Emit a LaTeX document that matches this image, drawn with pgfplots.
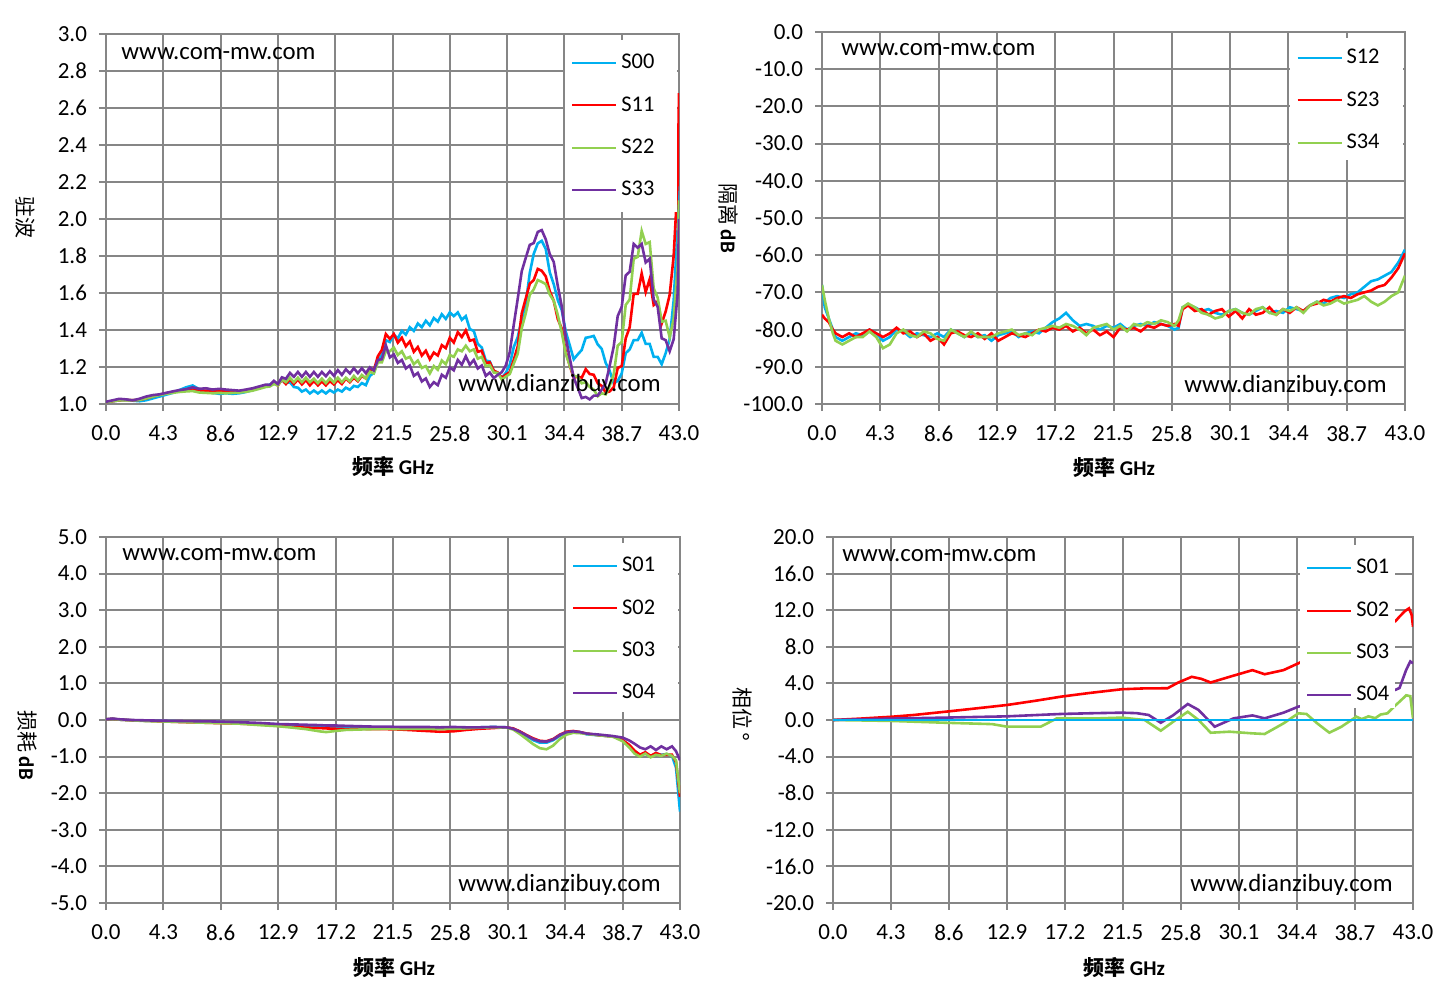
\documentclass[border=0pt]{standalone}
\usepackage{pgfplots}
\pgfplotsset{compat=1.18}
\usepackage{pgfplotstable}
\usepackage{fontspec}
\setmainfont{Carlito}
\newfontfamily\cjk{Noto Sans CJK SC}
\definecolor{gridgray}{HTML}{868686}
\definecolor{sblue}{HTML}{00B0F0}
\definecolor{sred}{HTML}{FF0000}
\definecolor{sgreen}{HTML}{92D050}
\definecolor{spurple}{HTML}{7030A0}

\pgfplotstableread{
f a b c d
0.0 1.010 1.010 1.010 1.012
0.5 1.015 1.015 1.015 1.020
1.0 1.020 1.020 1.020 1.028
1.5 1.022 1.022 1.020 1.025
2.0 1.018 1.020 1.020 1.020
2.5 1.015 1.022 1.022 1.028
3.0 1.020 1.030 1.030 1.040
3.5 1.030 1.040 1.040 1.048
4.0 1.040 1.050 1.048 1.052
4.5 1.050 1.058 1.055 1.060
5.0 1.060 1.065 1.060 1.068
5.5 1.075 1.070 1.065 1.075
6.0 1.090 1.072 1.068 1.080
6.5 1.100 1.078 1.070 1.090
7.0 1.080 1.070 1.062 1.082
7.5 1.068 1.072 1.060 1.085
8.0 1.060 1.070 1.058 1.078
8.5 1.055 1.068 1.060 1.082
9.0 1.058 1.070 1.058 1.078
9.5 1.055 1.066 1.060 1.075
10.0 1.058 1.070 1.062 1.072
10.5 1.065 1.075 1.066 1.078
11.0 1.075 1.082 1.072 1.085
11.5 1.088 1.090 1.082 1.095
12.0 1.100 1.100 1.092 1.105
12.3 1.105 1.098 1.095 1.103
12.6 1.115 1.115 1.108 1.125
12.9 1.110 1.100 1.100 1.108
13.2 1.128 1.132 1.132 1.144
13.5 1.112 1.108 1.118 1.136
13.8 1.118 1.132 1.142 1.168
14.1 1.092 1.108 1.118 1.147
14.4 1.088 1.132 1.142 1.173
14.7 1.067 1.106 1.118 1.147
15.0 1.078 1.129 1.142 1.173
15.3 1.057 1.101 1.118 1.147
15.6 1.073 1.124 1.137 1.173
15.9 1.057 1.101 1.113 1.147
16.2 1.073 1.122 1.137 1.173
16.5 1.057 1.101 1.113 1.150
16.8 1.075 1.124 1.139 1.177
17.1 1.062 1.106 1.116 1.153
17.4 1.078 1.129 1.142 1.183
17.7 1.067 1.108 1.118 1.157
18.0 1.088 1.137 1.142 1.188
18.3 1.077 1.118 1.123 1.165
18.6 1.098 1.142 1.152 1.193
18.9 1.092 1.123 1.128 1.167
19.2 1.113 1.152 1.157 1.193
19.5 1.102 1.138 1.138 1.167
19.8 1.152 1.188 1.175 1.198
20.1 1.168 1.182 1.165 1.182
20.4 1.235 1.258 1.225 1.238
20.7 1.265 1.292 1.225 1.242
21.0 1.345 1.378 1.285 1.318
21.3 1.335 1.352 1.285 1.252
21.6 1.375 1.378 1.305 1.268
21.9 1.355 1.332 1.265 1.222
22.2 1.395 1.358 1.285 1.238
22.5 1.375 1.312 1.245 1.192
22.8 1.415 1.338 1.255 1.208
23.1 1.395 1.282 1.215 1.152
23.4 1.435 1.308 1.235 1.168
23.7 1.415 1.262 1.195 1.122
24.0 1.450 1.288 1.205 1.138
24.3 1.425 1.242 1.165 1.092
24.6 1.465 1.278 1.205 1.118
24.9 1.445 1.262 1.185 1.102
25.2 1.485 1.318 1.235 1.158
25.5 1.460 1.302 1.215 1.142
25.8 1.495 1.358 1.265 1.198
26.1 1.475 1.332 1.255 1.182
26.4 1.495 1.388 1.295 1.238
26.7 1.455 1.362 1.285 1.212
27.0 1.475 1.398 1.315 1.258
27.3 1.405 1.342 1.285 1.212
27.6 1.395 1.348 1.295 1.238
27.9 1.325 1.282 1.245 1.192
28.2 1.305 1.288 1.255 1.208
28.5 1.235 1.222 1.205 1.152
28.8 1.230 1.225 1.210 1.170
29.1 1.180 1.180 1.170 1.140
29.4 1.168 1.170 1.168 1.158
29.7 1.142 1.142 1.132 1.172
30.0 1.168 1.158 1.148 1.208
30.3 1.212 1.172 1.162 1.280
30.6 1.308 1.238 1.218 1.428
30.9 1.362 1.312 1.272 1.570
31.2 1.458 1.490 1.410 1.718
31.5 1.542 1.570 1.490 1.790
31.8 1.708 1.650 1.590 1.860
32.1 1.812 1.670 1.620 1.870
32.4 1.868 1.730 1.670 1.930
32.7 1.882 1.720 1.660 1.940
33.0 1.838 1.690 1.648 1.890
33.3 1.712 1.610 1.592 1.810
33.6 1.648 1.558 1.558 1.768
33.9 1.562 1.460 1.482 1.640
34.2 1.508 1.408 1.388 1.528
34.5 1.392 1.282 1.272 1.362
34.8 1.318 1.208 1.208 1.248
35.1 1.242 1.142 1.152 1.142
35.4 1.268 1.148 1.148 1.088
35.7 1.292 1.142 1.112 1.032
36.0 1.358 1.188 1.118 1.038
36.3 1.362 1.162 1.092 1.025
36.6 1.368 1.158 1.078 1.045
36.9 1.322 1.112 1.042 1.045
37.2 1.298 1.098 1.058 1.078
37.5 1.222 1.062 1.052 1.112
37.8 1.178 1.068 1.098 1.208
38.1 1.112 1.090 1.160 1.310
38.4 1.125 1.195 1.315 1.475
38.7 1.165 1.205 1.335 1.525
39.0 1.275 1.355 1.535 1.695
39.3 1.295 1.415 1.565 1.715
39.6 1.345 1.595 1.785 1.865
39.9 1.345 1.595 1.795 1.845
40.2 1.385 1.705 1.935 1.865
40.5 1.325 1.605 1.865 1.765
40.8 1.325 1.675 1.875 1.785
41.1 1.255 1.535 1.625 1.565
41.4 1.255 1.555 1.575 1.525
41.7 1.215 1.435 1.445 1.355
42.0 1.275 1.500 1.450 1.345
42.3 1.350 1.590 1.360 1.285
42.6 1.560 1.800 1.460 1.350
42.9 1.950 2.200 1.750 1.600
43.0 2.500 2.680 2.100 2.000
}\tlvswr

\pgfplotstableread{
f a b c
0.0 -68 -76 -68
0.2 -74 -77 -72
0.5 -77 -78 -77
0.8 -80 -80 -81
1.0 -82 -81 -83
1.5 -83 -82 -84
2.0 -82 -81 -83
2.5 -81 -82 -82
3.0 -81.5 -81 -82
3.5 -80 -80 -80.5
4.0 -81 -81 -82
4.5 -83 -82 -85
5.0 -82 -81 -84
5.5 -80 -79.5 -81
6.0 -80.5 -81 -80
6.5 -82 -80.5 -81.5
7.0 -81 -82 -82
7.5 -81.5 -81 -80.5
8.0 -82 -83 -81
8.5 -81 -82 -82.5
9.0 -82 -84 -83
9.5 -80 -81 -80
10.0 -81 -80.5 -81
10.5 -82 -81.5 -82
11.0 -81 -82 -80.5
11.5 -82 -81 -82
12.0 -81.5 -82.5 -82
12.5 -83 -81 -82
13.0 -81.5 -83 -81
13.5 -81 -82 -80.5
14.0 -80.5 -81 -80
14.5 -82 -81.5 -81.5
15.0 -81 -82 -81
15.5 -80.5 -81 -81.5
16.0 -81 -80 -80
16.5 -79.5 -80.5 -79.5
17.0 -78 -79.5 -79
17.5 -77 -80 -79.5
18.0 -75.5 -79 -78.5
18.5 -77.5 -80.5 -79
19.0 -79 -79.5 -80
19.5 -78.5 -81 -81.5
20.0 -79 -80 -79.5
20.5 -80 -81.5 -79
21.0 -79 -80.5 -78.5
21.5 -79.5 -82 -80
22.0 -78.5 -79.5 -79
22.5 -80 -80 -80.5
23.0 -79 -79.5 -78.5
23.5 -78.5 -80.5 -79
24.0 -79 -79 -78
24.5 -78 -79.5 -78.5
25.0 -78.5 -78.5 -77.5
25.5 -79 -79 -78
26.0 -80 -78.5 -79
26.3 -79.5 -79 -77.5
26.6 -74 -74.5 -74
27.0 -73.5 -73.5 -73
27.5 -74 -75 -74
28.0 -75 -74.5 -75.5
28.5 -74.5 -76 -76
29.0 -75.5 -75 -77
29.5 -76 -74.5 -76.5
30.0 -75 -76.5 -75
30.5 -74.5 -75 -74.5
31.0 -75.5 -77 -75.5
31.5 -76 -74.5 -76
32.0 -75 -76 -74.5
32.5 -74 -75.5 -74
33.0 -75.5 -74 -75.5
33.5 -75 -76 -76
34.0 -75.5 -74.5 -74.5
34.5 -74 -75.5 -75
35.0 -74.5 -74 -74
35.5 -75 -75 -75.5
36.0 -73.5 -73.5 -73.5
36.5 -72.5 -73 -72.5
37.0 -73 -72 -73.5
37.5 -71.5 -72.5 -73
38.0 -71 -71.5 -72
38.5 -71.5 -71 -73
39.0 -70.5 -71.5 -72.5
39.5 -70 -70.5 -72
40.0 -68.5 -70 -71
40.5 -67 -69.5 -72.5
41.0 -66.5 -68.5 -73.5
41.5 -65.5 -68 -72.5
42.0 -64.5 -66 -71
42.5 -62 -63.5 -70
43.0 -58.5 -59.5 -65.5
}\triso

\pgfplotstableread{
f a b c d
0.0 0.02 0.02 0.02 0.02
0.5 0.03 0.03 0.03 0.04
1.0 0.01 0.01 0.01 0.02
2.0 -0.01 -0.01 -0.01 0.00
3.0 -0.02 -0.02 -0.03 -0.01
4.3 -0.03 -0.04 -0.04 -0.02
6.0 -0.04 -0.06 -0.06 -0.03
8.0 -0.05 -0.08 -0.08 -0.04
10.0 -0.08 -0.10 -0.10 -0.06
11.5 -0.10 -0.12 -0.14 -0.08
12.9 -0.12 -0.16 -0.17 -0.11
14.0 -0.15 -0.19 -0.21 -0.12
15.0 -0.17 -0.21 -0.25 -0.13
16.0 -0.19 -0.22 -0.31 -0.14
16.5 -0.20 -0.23 -0.33 -0.15
17.2 -0.20 -0.24 -0.30 -0.15
18.0 -0.21 -0.25 -0.27 -0.16
19.0 -0.22 -0.24 -0.26 -0.17
20.0 -0.22 -0.25 -0.25 -0.18
21.0 -0.22 -0.25 -0.24 -0.18
22.0 -0.23 -0.26 -0.25 -0.19
23.0 -0.22 -0.28 -0.24 -0.19
24.0 -0.22 -0.30 -0.24 -0.19
25.0 -0.22 -0.32 -0.25 -0.20
26.0 -0.21 -0.31 -0.24 -0.19
27.0 -0.21 -0.27 -0.23 -0.20
28.0 -0.20 -0.24 -0.21 -0.20
29.0 -0.19 -0.22 -0.20 -0.19
30.0 -0.20 -0.20 -0.21 -0.20
30.5 -0.24 -0.23 -0.26 -0.24
31.0 -0.33 -0.31 -0.38 -0.32
31.5 -0.44 -0.41 -0.52 -0.42
32.0 -0.55 -0.50 -0.66 -0.52
32.5 -0.62 -0.57 -0.77 -0.58
33.0 -0.62 -0.58 -0.80 -0.59
33.5 -0.55 -0.52 -0.70 -0.53
34.0 -0.43 -0.40 -0.52 -0.41
34.5 -0.34 -0.32 -0.40 -0.33
35.0 -0.31 -0.30 -0.35 -0.31
35.5 -0.33 -0.33 -0.36 -0.33
36.0 -0.39 -0.37 -0.38 -0.37
37.0 -0.42 -0.42 -0.42 -0.40
38.0 -0.45 -0.45 -0.46 -0.44
38.7 -0.55 -0.55 -0.58 -0.48
39.2 -0.70 -0.68 -0.75 -0.56
39.6 -0.85 -0.84 -0.92 -0.65
40.0 -0.95 -0.95 -1.00 -0.75
40.4 -0.92 -0.88 -0.92 -0.80
40.8 -0.98 -0.98 -1.02 -0.72
41.2 -0.92 -0.90 -0.95 -0.82
41.6 -0.95 -0.96 -0.98 -0.72
42.0 -0.93 -0.95 -0.92 -0.80
42.4 -0.98 -0.95 -0.98 -0.72
42.7 -1.30 -1.15 -1.10 -0.85
43.0 -2.50 -2.10 -2.00 -1.10
}\blloss

\pgfplotsset{
 base/.style={
  scale only axis, anchor=north west,
  xmin=0, xmax=43,
  xtick={0,4.3,8.6,12.9,17.2,21.5,25.8,30.1,34.4,38.7,43},
  xticklabels={0.0,4.3,8.6,12.9,17.2,21.5,25.8,30.1,34.4,38.7,43.0},
  grid=major,
  major grid style={draw=gridgray, line width=1pt},
  axis line style={draw=gridgray, line width=1pt},
  tick style={draw=gridgray, line width=1pt},
  tick align=outside, major tick length=3.5pt,
  tick pos=left,
  tick label style={font=\fontsize{11.5}{13}\selectfont},
  xticklabel style={yshift=-4pt},
  yticklabel style={xshift=-2.5pt},
  legend image code/.code={\draw[#1,line width=1pt] (0pt,0pt) -- (22pt,0pt);},
  legend cell align=left,
  legend style={draw=none, fill=none, anchor=north west, font=\fontsize{11.2}{13}\selectfont, row sep=8.4pt, inner xsep=3pt, inner ysep=5pt},
  every axis plot/.append style={line width=1.3pt, no markers},
 }
}

\begin{document}
\begin{tikzpicture}
\useasboundingbox (0,0) rectangle (722.5pt,-497pt);

% top-left
\begin{axis}[base, at={(53pt,-17pt)}, width=286.5pt, height=185pt,
  ymin=1, ymax=3, ytick={1,1.2,1.4,1.6,1.8,2,2.2,2.4,2.6,2.8,3},
  yticklabels={1.0,1.2,1.4,1.6,1.8,2.0,2.2,2.4,2.6,2.8,3.0},
  legend style={at={(0.801,0.984)}}]
\addplot[sblue] table[x=f,y=a] {\tlvswr};
\addplot[sred] table[x=f,y=b] {\tlvswr};
\addplot[sgreen] table[x=f,y=c] {\tlvswr};
\addplot[spurple] table[x=f,y=d] {\tlvswr};
\fill[white] (rel axis cs:0.801,0.519) rectangle (rel axis cs:0.997,0.984);
\legend{S00,S11,S22,S33}
\end{axis}

% top-right
\begin{axis}[base, at={(411pt,-16pt)}, width=291.5pt, height=186pt,
  ymin=-100, ymax=0, ytick={-100,-90,-80,-70,-60,-50,-40,-30,-20,-10,0},
  yticklabels={-100.0,-90.0,-80.0,-70.0,-60.0,-50.0,-40.0,-30.0,-20.0,-10.0,0.0},
  legend style={at={(0.803,0.992)}}]
\addplot[sblue] table[x=f,y=a] {\triso};
\addplot[sred] table[x=f,y=b] {\triso};
\addplot[sgreen] table[x=f,y=c] {\triso};
\fill[white] (rel axis cs:0.803,0.656) rectangle (rel axis cs:0.997,0.984);
\legend{S12,S23,S34}
\end{axis}

% bottom-left
\begin{axis}[base, at={(53pt,-268.5pt)}, width=287pt, height=183pt,
  ymin=-5, ymax=5, ytick={-5,-4,-3,-2,-1,0,1,2,3,4,5},
  yticklabels={-5.0,-4.0,-3.0,-2.0,-1.0,0.0,1.0,2.0,3.0,4.0,5.0},
  legend style={at={(0.801,0.984)}}]
\addplot[sblue] table[x=f,y=a] {\blloss};
\addplot[sred] table[x=f,y=b] {\blloss};
\addplot[sgreen] table[x=f,y=c] {\blloss};
\addplot[spurple] table[x=f,y=d] {\blloss};
\fill[white] (rel axis cs:0.801,0.522) rectangle (rel axis cs:0.997,0.984);
\legend{S01,S02,S03,S04}
\end{axis}

% bottom-right
\begin{axis}[base, at={(416.5pt,-268.5pt)}, width=290pt, height=183pt,
  ymin=-20, ymax=20, ytick={-20,-16,-12,-8,-4,0,4,8,12,16,20},
  yticklabels={-20.0,-16.0,-12.0,-8.0,-4.0,0.0,4.0,8.0,12.0,16.0,20.0},
  legend style={at={(0.805,0.978)}}]
\addplot[sblue] coordinates {(0,0) (43,0)};
\addplot[sred] coordinates {(0,0) (2,0.15) (4.3,0.35) (6,0.55) (8.3,0.9) (10.5,1.25) (12.9,1.64) (15,2.1) (16.9,2.55) (19,2.95) (21.4,3.36) (23,3.45) (24.8,3.47) (25.6,4.1) (26.6,4.72) (27.3,4.5) (28,4.1) (29.4,4.72) (31.1,5.45) (32,5.0) (33.4,5.45) (34.5,6.2) (36,7.2) (38,8.5) (40,9.7) (41.7,10.8) (42,11.3) (42.4,11.9) (42.7,12.2) (42.9,11.5) (43,10.2)};
\addplot[sgreen] coordinates {(0,0) (4.3,-0.1) (8.3,-0.3) (11.8,-0.45) (12.9,-0.73) (15.4,-0.73) (16.6,0.18) (19.7,0.18) (21.4,0.26) (23.1,0) (24.3,-1.17) (25.4,0) (26.3,0.9) (27.1,0) (28,-1.39) (29.4,-1.28) (31.1,-1.46) (32,-1.53) (33.4,-0.37) (34.5,0.73) (35.1,0.66) (35.9,-0.37) (36.8,-1.39) (37.7,-0.73) (38.8,0.36) (39.2,0.1) (39.7,0.4) (40.2,0.2) (40.6,0.6) (41.1,0.73) (41.7,1.6) (42,2.0) (42.5,2.7) (42.8,2.6) (43,0.2)};
\addplot[spurple] coordinates {(0,0) (4.3,0.15) (8.3,0.26) (12.9,0.4) (16.9,0.66) (19.5,0.75) (21.4,0.8) (22.5,0.75) (23.4,0.55) (24.3,-0.3) (25.2,0.5) (26.3,1.75) (27.1,1.1) (28.3,-0.73) (29.7,0.18) (31.1,0.5) (32,0.18) (33.4,0.8) (34.5,1.46) (36,1.9) (38,2.3) (40,2.6) (41.7,3.3) (42,3.5) (42.5,5.5) (42.8,6.4) (43,6.2)};
\addplot[sblue, forget plot] coordinates {(0,0) (43,0)};
\fill[white] (rel axis cs:0.805,0.533) rectangle (rel axis cs:0.969,0.978);
\legend{S01,S02,S03,S04}
\end{axis}

% watermarks
\begin{scope}[every node/.style={inner sep=0pt, anchor=west, font=\fontsize{12.4}{14}\selectfont}]
\node at (60.5pt,-27pt) {www.com-mw.com};
\node at (229pt,-192.5pt) {www.dianzibuy.com};
\node at (420.5pt,-25pt) {www.com-mw.com};
\node at (592pt,-193pt) {www.dianzibuy.com};
\node at (61pt,-277.5pt) {www.com-mw.com};
\node at (229pt,-442.5pt) {www.dianzibuy.com};
\node at (421pt,-278pt) {www.com-mw.com};
\node at (595pt,-442.5pt) {www.dianzibuy.com};
\end{scope}

% axis titles
\begin{scope}[every node/.style={inner sep=0pt, font=\fontsize{10.5}{12}\selectfont}]
\node at (196.5pt,-233.5pt) {{\cjk\bfseries 频率} \textbf{GHz}};
\node at (557pt,-234pt) {{\cjk\bfseries 频率} \textbf{GHz}};
\node at (197pt,-484pt) {{\cjk\bfseries 频率} \textbf{GHz}};
\node at (562pt,-484pt) {{\cjk\bfseries 频率} \textbf{GHz}};
\node[rotate=-90] at (12.5pt,-109pt) {{\cjk 驻波}};
\node[rotate=-90] at (364.5pt,-109pt) {{\cjk 隔离} \textbf{dB}};
\node[rotate=-90] at (13.5pt,-372.5pt) {{\cjk 损耗} \textbf{dB}};
\node[rotate=-90] at (371.5pt,-357pt) {{\cjk 相位} °};
\end{scope}
\end{tikzpicture}
\end{document}
